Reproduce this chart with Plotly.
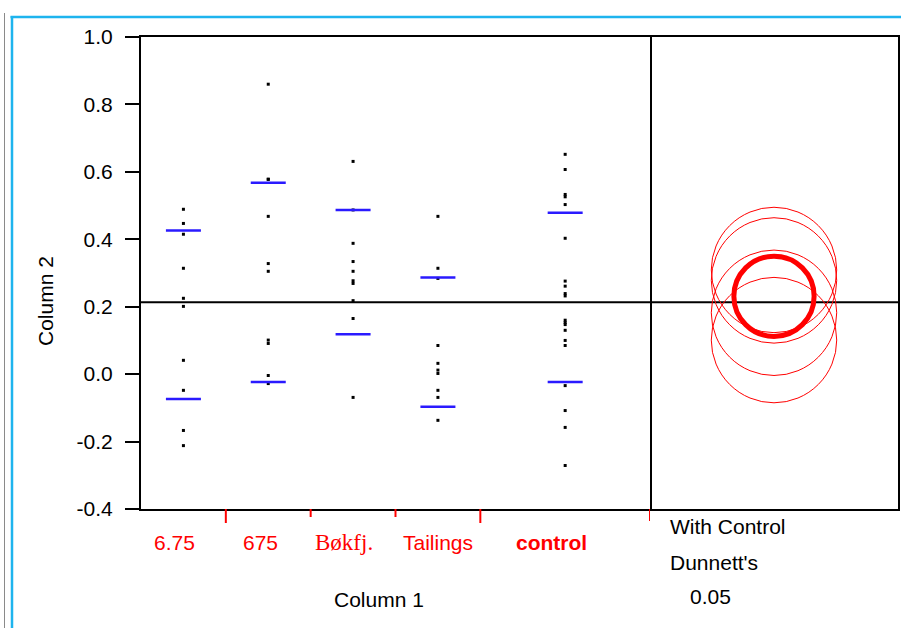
import plotly.graph_objects as go

# ---------------- data ----------------
groups = ["6.75", "675", "Bøkfj.", "Tailings", "control"]
vals_675 = [0.489, 0.447, 0.415, 0.314, 0.225, 0.201, 0.041, -0.048, -0.167, -0.212]
vals_675b = [0.860, 0.578, 0.578, 0.468, 0.328, 0.305, 0.101, 0.091, -0.004, -0.028]
vals_bokfj = [0.631, 0.487, 0.388, 0.334, 0.305, 0.277, 0.269, 0.218, 0.165, -0.069]
vals_tailings = [0.468, 0.314, 0.284, 0.085, 0.032, 0.012, 0.002, -0.048, -0.069, -0.137]
vals_control = [0.652, 0.607, 0.533, 0.526, 0.503, 0.403, 0.276, 0.261, 0.239, 0.232,
                 0.160, 0.153, 0.147, 0.130, 0.100, 0.085, -0.034, -0.108, -0.158, -0.271]
group_values = [vals_675, vals_675b, vals_bokfj, vals_tailings, vals_control]

sd_upper = [0.426, 0.568, 0.487, 0.287, 0.479]   # mean + std dev (blue dashes)
sd_lower = [-0.074, -0.023, 0.118, -0.097, -0.023]  # mean - std dev
grand_mean = 0.213

circle_centers = [0.182, 0.278, 0.309, 0.101]   # comparison circles, non-control
circle_radius = 0.186
control_center = 0.231
control_radius = 0.119

y_ticks = [-0.4, -0.2, 0.0, 0.2, 0.4, 0.6, 0.8, 1.0]
y_tick_text = ["-0.4", "-0.2", "0.0", "0.2", "0.4", "0.6", "0.8", "1.0"]

# ---------------- styles ----------------
FONT = "Liberation Sans, Arial, sans-serif"
FS = 21
tick_len_px = [14, 8, 8, 14, 12]
label_shift = [-9, -8, -9, 0, -14]
label_html = ["6.75", "675",
              "<span style='font-family:Liberation Serif, Times New Roman, serif;font-size:23px'>Bøkfj.</span>",
              "Tailings", "<b>control</b>"]

W, H = 901, 628
ML, MR, MT, MB = 141, 3, 37, 119
plot_w = W - ML - MR
plot_h = H - MT - MB
split = 650
dom_split = (split - ML) / plot_w

# group widths proportional to sample size
counts = [len(v) for v in group_values]
edges = [0]
for c in counts:
    edges.append(edges[-1] + c)
centers = [(edges[i] + edges[i + 1]) / 2 for i in range(len(counts))]

fig = go.Figure()

# data points
for i, vals in enumerate(group_values):
    fig.add_trace(go.Scatter(
        x=[centers[i]] * len(vals), y=vals, mode="markers",
        marker=dict(symbol="square", size=3, color="black", line=dict(width=0)),
        xaxis="x", yaxis="y", showlegend=False, hoverinfo="y"))

# mean +/- sd dashes
fig.add_trace(go.Scatter(
    x=centers + centers, y=sd_upper + sd_lower, mode="markers",
    marker=dict(symbol="line-ew", size=25, line=dict(width=2.5, color="#2a1aff")),
    xaxis="x", yaxis="y", showlegend=False, hoverinfo="y"))

# dummy trace for right panel axes
fig.add_trace(go.Scatter(x=[0], y=[grand_mean], mode="markers", marker=dict(opacity=0),
                         xaxis="x2", yaxis="y2", showlegend=False, hoverinfo="skip"))

shapes = []
# grand mean line
shapes.append(dict(type="line", xref="paper", yref="y", x0=0, x1=1, y0=grand_mean, y1=grand_mean,
                   line=dict(color="black", width=2)))
# comparison circles
for c in circle_centers:
    shapes.append(dict(type="circle", xref="x2", yref="y2", x0=-circle_radius, x1=circle_radius,
                       y0=c - circle_radius, y1=c + circle_radius, line=dict(color="#ff0000", width=1)))
shapes.append(dict(type="circle", xref="x2", yref="y2", x0=-control_radius, x1=control_radius,
                   y0=control_center - control_radius, y1=control_center + control_radius,
                   line=dict(color="#ff0000", width=5)))
# red category boundary ticks
for i, e in enumerate(edges[1:]):
    shapes.append(dict(type="line", xref="x", yref="paper", x0=e, x1=e, y0=0,
                       y1=-tick_len_px[i] / plot_h, line=dict(color="#ff0000", width=2)))

# page decoration: blue frame + gray rule
def px(xp):
    return (xp - ML) / plot_w

def py(yp):
    return (H - MB - yp) / plot_h

shapes.append(dict(type="line", xref="paper", yref="paper", x0=px(10.5), x1=px(902), y0=py(17), y1=py(17),
                   line=dict(color="#1eb4ee", width=2.5)))
shapes.append(dict(type="line", xref="paper", yref="paper", x0=px(12), x1=px(12), y0=py(16), y1=py(630),
                   line=dict(color="#1eb4ee", width=2.5)))
shapes.append(dict(type="line", xref="paper", yref="paper", x0=px(4.5), x1=px(4.5), y0=py(13), y1=py(630),
                   line=dict(color="#8a8a8a", width=1)))

annotations = []
for i, g in enumerate(groups):
    annotations.append(dict(x=centers[i], y=py(542), xref="x", yref="paper", text=label_html[i],
                            showarrow=False, xanchor="center", yanchor="middle", xshift=label_shift[i],
                            font=dict(family=FONT, size=FS, color="#ff0000")))
annotations.append(dict(x=px(379), y=py(599), xref="paper", yref="paper", text="Column 1", showarrow=False,
                        xanchor="center", yanchor="middle", font=dict(family=FONT, size=FS, color="black")))
annotations.append(dict(x=px(45), y=py(301), xref="paper", yref="paper", text="Column 2", showarrow=False,
                        textangle=-90, xanchor="center", yanchor="middle",
                        font=dict(family=FONT, size=FS, color="black")))
for txt, xl, yc in [("With Control", 668, 526), ("Dunnett's", 668, 562), ("0.05", 688, 596)]:
    annotations.append(dict(x=px(xl), y=py(yc), xref="paper", yref="paper", text=txt, showarrow=False,
                            xanchor="left", yanchor="middle", font=dict(family=FONT, size=FS, color="black")))

right_w = W - MR - split
x2_half = (right_w / plot_h * 1.4) / 2

fig.update_layout(
    width=W, height=H, margin=dict(l=ML, r=MR, t=MT, b=MB, autoexpand=False),
    paper_bgcolor="white", plot_bgcolor="white",
    font=dict(family=FONT, size=FS, color="black"),
    xaxis=dict(domain=[0, dom_split], range=[0, edges[-1]], showgrid=False, zeroline=False,
               showticklabels=False, ticks="", showline=True, mirror=True, linecolor="black", linewidth=2,
               fixedrange=True),
    yaxis=dict(domain=[0, 1], range=[-0.4, 1.0], tickvals=y_ticks, ticktext=y_tick_text,
               showgrid=False, zeroline=False, ticks="outside", ticklen=14, tickwidth=2, tickcolor="black",
               ticklabelstandoff=8, showline=True, mirror=True, linecolor="black", linewidth=2,
               tickfont=dict(family=FONT, size=FS, color="black"), anchor="x"),
    xaxis2=dict(domain=[dom_split, 1], range=[-x2_half, x2_half], showgrid=False, zeroline=False,
                showticklabels=False, ticks="", showline=True, mirror=True, linecolor="black", linewidth=2,
                anchor="y2"),
    yaxis2=dict(domain=[0, 1], range=[-0.4, 1.0], showgrid=False, zeroline=False, showticklabels=False,
                ticks="", showline=True, mirror=False, side="right", linecolor="black", linewidth=2,
                anchor="x2"),
    shapes=shapes, annotations=annotations, showlegend=False,
)

fig.write_html("out.html", config={"displayModeBar": False},
               post_script="document.body.style.margin='0';document.body.style.overflow='hidden';")
